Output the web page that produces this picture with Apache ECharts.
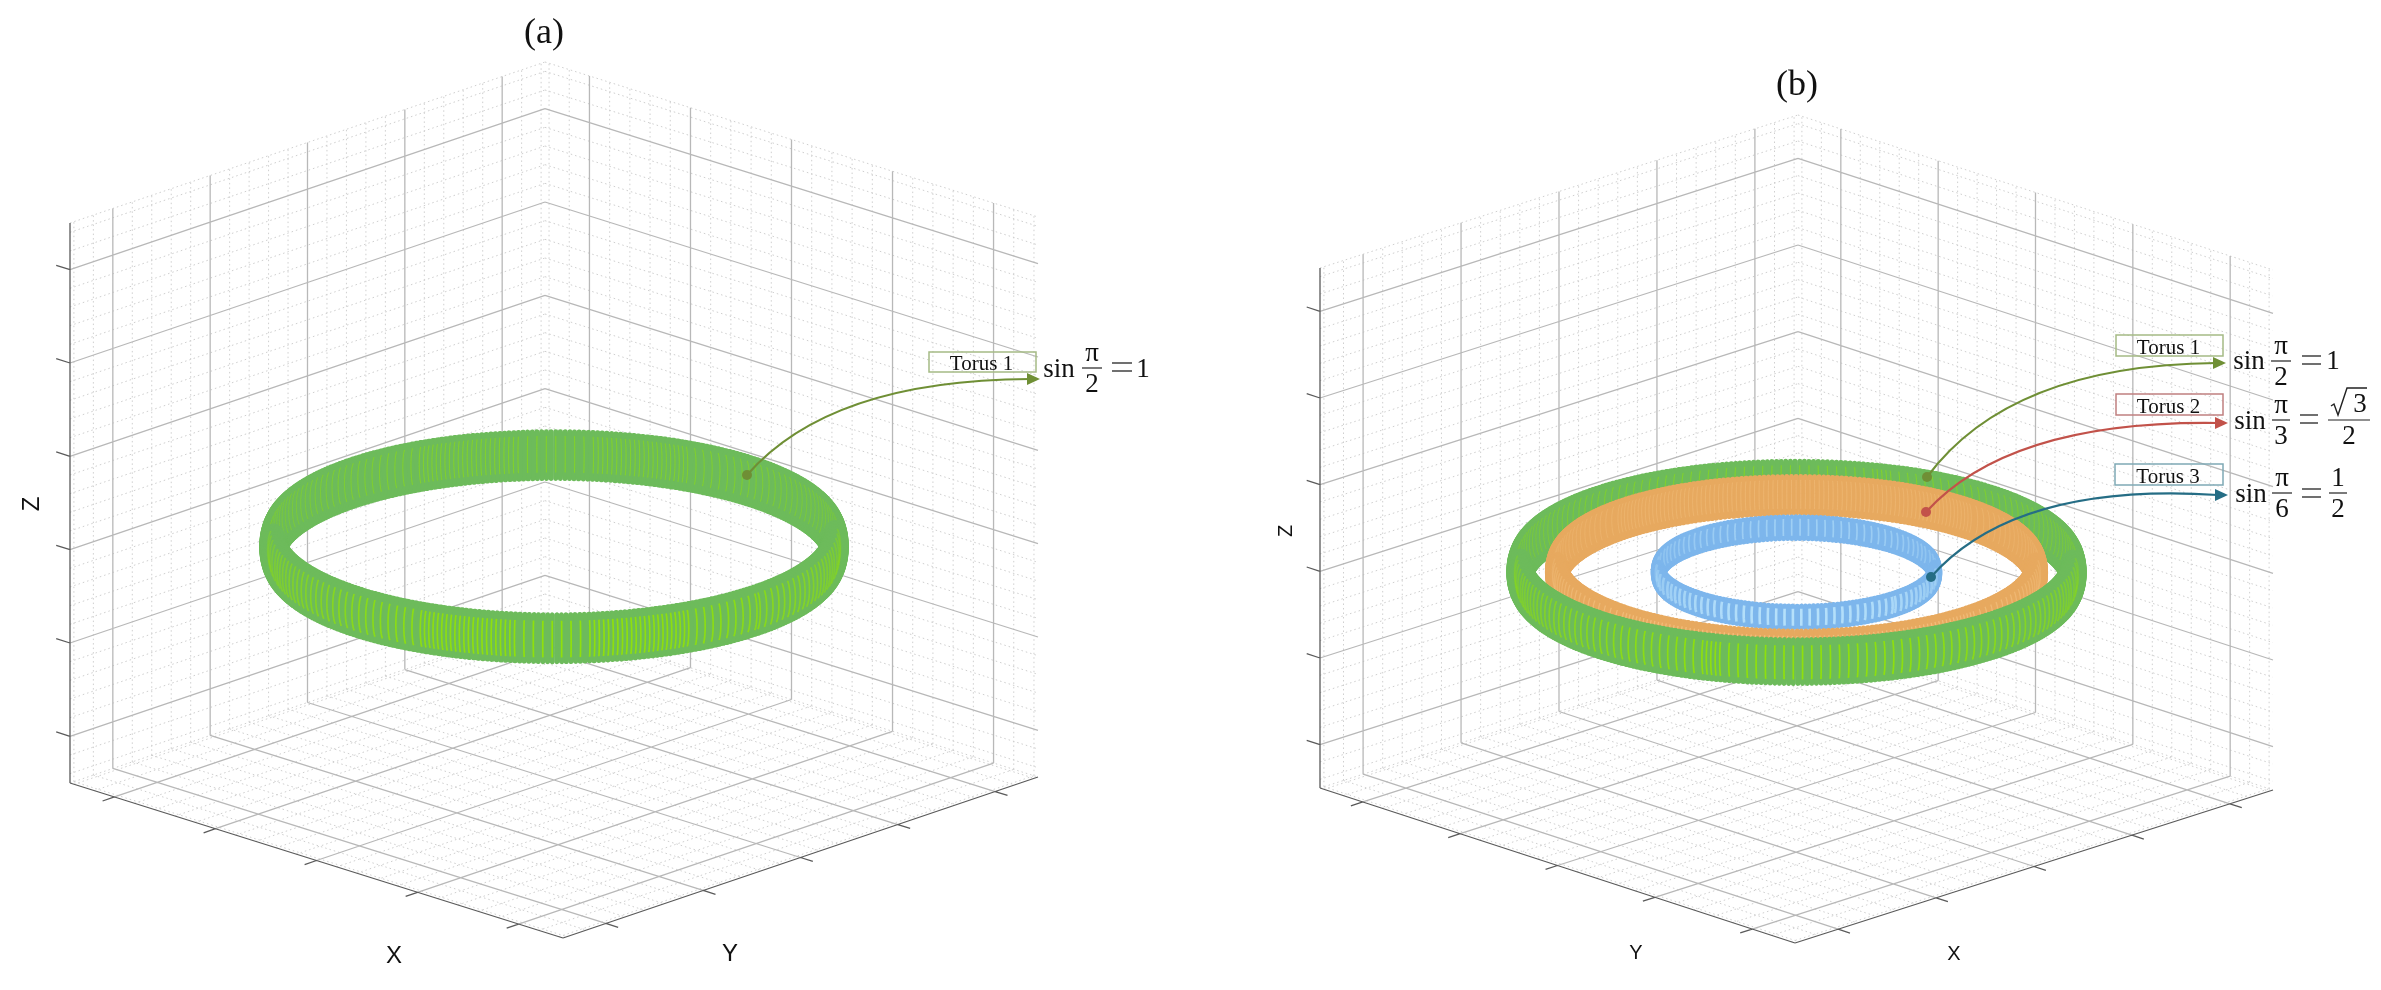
<!DOCTYPE html>
<html>
<head>
<meta charset="utf-8">
<title>Torus</title>
<script src="https://cdn.jsdelivr.net/npm/echarts@6/dist/echarts.min.js"></script>
<style>
html,body{margin:0;padding:0;background:#fff;}
#main{width:2381px;height:990px;}
</style>
</head>
<body>
<div id="main"></div>
<script>
// axis ticks
var xyTicks = [-1, -0.5, 0, 0.5, 1];
var zTicks = [-1, -0.6, -0.2, 0.2, 0.6, 1];
var xyMinor = [-1.2, -1.1, -0.9, -0.8, -0.7, -0.6, -0.4, -0.3, -0.2, -0.1, 0.1, 0.2, 0.3, 0.4, 0.6, 0.7, 0.8, 0.9, 1.1, 1.2];
var zMinor = [-1.2, -1.16, -1.08, -0.92, -0.84, -0.76, -0.68, -0.52, -0.44, -0.36, -0.28, -0.12, -0.04, 0.04, 0.12, 0.28, 0.36, 0.44, 0.52, 0.68, 0.76, 0.84, 0.92, 1.08, 1.16, 1.2];

// tori
var torusNames = ['Torus 1', 'Torus 2', 'Torus 3'];
var torusRadius = [1, 0.866, 0.5];
var tubeRadius = [0.042, 0.036, 0.019];
var tubeHeight = [0.1, 0.085, 0.05];
var torusZ = -0.2;
var ringCounts = [380, 330, 210];
var panelTori = [[0], [0, 1, 2]];

var XY_LIM = 1.22, Z_LIM = 1.2;

// corners of the box on the page (floor left, front, back, box height)
var panels = [
	{ L: [70, 783], F: [563, 938], B: [545, 622], H: 560 },
	{ L: [1320, 788], F: [1795, 943], B: [1798, 635], H: 520 }
];

var bodyColor = ['#6dbb5b', '#e7a95f', '#7db6ec'];
var stripeColor = ['#8fe00c', '#f3c07e', '#b5e0fa'];
var stripeWidth = [1.7, 1.3, 2.6];
var stripeGap = [4.8, 4.2, 5.4];

function project(p, x, y, z) {
	var xf = (x + XY_LIM) / (2 * XY_LIM);
	var yf = (y + XY_LIM) / (2 * XY_LIM);
	var zf = (z + Z_LIM) / (2 * Z_LIM);
	return [
		p.L[0] + xf * (p.F[0] - p.L[0]) + yf * (p.B[0] - p.L[0]),
		p.L[1] + xf * (p.F[1] - p.L[1]) + yf * (p.B[1] - p.L[1]) - zf * p.H
	];
}

function addSeg(list, a, b) {
	list.push(a, b, ['-', '-']);
}

// grid lines of the three walls for a set of ticks
function wallLines(p, xy, z) {
	var out = [];
	var i, v;
	for (i = 0; i < xy.length; i++) {
		v = xy[i];
		// floor
		addSeg(out, project(p, v, -XY_LIM, -Z_LIM), project(p, v, XY_LIM, -Z_LIM));
		addSeg(out, project(p, -XY_LIM, v, -Z_LIM), project(p, XY_LIM, v, -Z_LIM));
		// left wall and right wall
		addSeg(out, project(p, -XY_LIM, v, -Z_LIM), project(p, -XY_LIM, v, Z_LIM));
		addSeg(out, project(p, v, XY_LIM, -Z_LIM), project(p, v, XY_LIM, Z_LIM));
	}
	for (i = 0; i < z.length; i++) {
		v = z[i];
		addSeg(out, project(p, -XY_LIM, -XY_LIM, v), project(p, -XY_LIM, XY_LIM, v));
		addSeg(out, project(p, -XY_LIM, XY_LIM, v), project(p, XY_LIM, XY_LIM, v));
	}
	return out;
}

function axisLines(p) {
	var out = [];
	addSeg(out, project(p, -XY_LIM, -XY_LIM, Z_LIM), project(p, -XY_LIM, -XY_LIM, -Z_LIM));
	addSeg(out, project(p, -XY_LIM, -XY_LIM, -Z_LIM), project(p, XY_LIM, -XY_LIM, -Z_LIM));
	addSeg(out, project(p, XY_LIM, -XY_LIM, -Z_LIM), project(p, XY_LIM, XY_LIM, -Z_LIM));
	var i, a;
	var ux = p.F[0] - p.L[0], uy = p.F[1] - p.L[1];
	var vx = p.B[0] - p.L[0], vy = p.B[1] - p.L[1];
	for (i = 0; i < xyTicks.length; i++) {
		a = project(p, xyTicks[i], -XY_LIM, -Z_LIM);
		addSeg(out, a, [a[0] - vx * 0.025, a[1] - vy * 0.025]);
		a = project(p, XY_LIM, xyTicks[i], -Z_LIM);
		addSeg(out, a, [a[0] + ux * 0.025, a[1] + uy * 0.025]);
	}
	for (i = 0; i < zTicks.length; i++) {
		a = project(p, -XY_LIM, -XY_LIM, zTicks[i]);
		addSeg(out, a, [a[0] - ux * 0.028, a[1] - uy * 0.028]);
	}
	return out;
}

function lineSeries(data, color, width, type, z) {
	return {
		type: 'line', data: data, showSymbol: false, silent: true, z: z, clip: false,
		connectNulls: false, animation: false,
		lineStyle: { color: color, width: width, type: type }
	};
}

// rows of [panel, torus, angle, kind]; kind 0 is the tube ring, kind 1 its stripe.
// far half of each torus first (big to small), then near halves (small to big)
function ringData(panelIdx) {
	var rows = [];
	var p = panels[panelIdx];
	var tori = panelTori[panelIdx];
	var order = tori.map(function (t) { return [t, -1]; })
		.concat(tori.slice().reverse().map(function (t) { return [t, 1]; }));
	order.forEach(function (o) {
		var t = o[0], side = o[1];
		var group = [];
		for (var i = 0; i < ringCounts[t]; i++) {
			var th = i / ringCounts[t] * Math.PI * 2;
			var d = Math.cos(th) - Math.sin(th);
			if ((d < 0 ? -1 : 1) === side) group.push([th, d]);
		}
		group.sort(function (a, b) { return a[1] - b[1]; });
		group.forEach(function (g) { rows.push([panelIdx, t, g[0], 0]); });
		// stripes keep an even gap on the page, so they thin out at the sides
		group.sort(function (a, b) { return a[0] - b[0]; });
		var last = null;
		group.forEach(function (g) {
			var c = project(p, torusRadius[t] * Math.cos(g[0]), torusRadius[t] * Math.sin(g[0]), torusZ);
			if (!last || Math.abs(c[0] - last[0]) + Math.abs(c[1] - last[1]) >= stripeGap[t]) {
				rows.push([panelIdx, t, g[0], 1]);
				last = c;
			}
		});
	});
	return rows;
}

function renderRing(params, api) {
	var p = panels[api.value(0)];
	var t = api.value(1);
	var th = api.value(2);
	var c = Math.cos(th), s = Math.sin(th);
	var R = torusRadius[t], a = tubeRadius[t], b = tubeHeight[t];
	var pts = [], k, f, q;
	if (api.value(3) === 0) {
		for (k = 0; k < 20; k++) {
			f = k / 20 * Math.PI * 2;
			q = project(p, (R + a * Math.cos(f)) * c, (R + a * Math.cos(f)) * s, torusZ + b * Math.sin(f));
			pts.push(api.coord(q));
		}
		return { type: 'polygon', shape: { points: pts }, style: { fill: bodyColor[t], stroke: bodyColor[t], lineWidth: 5, lineJoin: 'round' } };
	}
	// stripe sits inside the tube so the rim stays plain
	for (k = -5; k <= 5; k++) {
		f = k / 5 * 1.1;
		q = project(p, (R + 0.5 * a * Math.cos(f)) * c, (R + 0.5 * a * Math.cos(f)) * s, torusZ + 0.88 * b * Math.sin(f));
		pts.push(api.coord(q));
	}
	// near the sides and on the far half the stripes are fainter
	var d = c - s;
	var far = d < 0;
	var amount = Math.abs(d) / Math.SQRT2;
	return {
		type: 'polyline', shape: { points: pts },
		style: {
			fill: null, stroke: stripeColor[t], lineJoin: 'round',
			lineWidth: stripeWidth[t] * (far ? 0.65 : 1),
			opacity: far ? 0.2 + 0.4 * amount : 0.3 + 0.7 * amount
		}
	};
}

// callouts: start dot, control point, arrow tip, colour
var arrowStart = [[747, 475], [1927, 477], [1926, 512], [1931, 577]];
var arrowCtrl = [[830, 380], [2010, 365], [2010, 420], [2015, 482]];
var arrowTip = [[1040, 379], [2226, 363], [2228, 423], [2228, 495]];
var arrowColor = ['#6f8f35', '#6f8f35', '#c2524a', '#256d85'];

function renderArrow(params, api) {
	var i = api.value(0);
	var a = api.coord(arrowStart[i]), c = api.coord(arrowCtrl[i]), b = api.coord(arrowTip[i]);
	var col = arrowColor[i];
	// the stem stops inside the head
	return {
		type: 'group',
		children: [
			{ type: 'bezierCurve', shape: { x1: a[0], y1: a[1], x2: b[0] - 10, y2: b[1], cpx1: c[0], cpy1: c[1] }, style: { fill: null, stroke: col, lineWidth: 2.2 } },
			{ type: 'polygon', shape: { points: [[b[0], b[1]], [b[0] - 13, b[1] - 6], [b[0] - 13, b[1] + 6]] }, style: { fill: col } },
			{ type: 'circle', shape: { cx: a[0], cy: a[1], r: 5 }, style: { fill: col } }
		]
	};
}

var series = [];
panels.forEach(function (p, n) {
	series.push(lineSeries(wallLines(p, xyMinor, zMinor), '#cfcfcf', 1, [1.5, 3], 1));
	series.push(lineSeries(wallLines(p, xyTicks, zTicks), '#b8b8b8', 1.3, 'solid', 2));
	series.push(lineSeries(axisLines(p), '#5a5a5a', 1.3, 'solid', 3));
	series.push({
		type: 'custom', data: ringData(n), renderItem: renderRing, silent: true, z: 4, clip: false, animation: false,
		encode: { x: 0, y: 1 }, progressive: 0
	});
});
series.push({
	type: 'custom', data: [[0, 0], [1, 0], [2, 0], [3, 0]], renderItem: renderArrow, silent: true, z: 5, clip: false, animation: false,
	encode: { x: 0, y: 1 }
});

// ------- text -------
var SERIF = '"Liberation Serif", serif';
var SANS = '"Liberation Sans", sans-serif';
var els = [];

function txt(x, base, str, size, font, rot) {
	els.push({
		type: 'text', x: x, y: base, rotation: rot || 0, silent: true, z: 10,
		style: { text: str, fill: '#111', font: size + 'px ' + font, textAlign: 'center', textVerticalAlign: 'bottom', verticalAlign: 'bottom' }
	});
}
function stroke(points, color, width) {
	els.push({
		type: 'polyline', silent: true, z: 10, shape: { points: points },
		style: { stroke: color, lineWidth: width, fill: null }
	});
}
function box(x, y, w, h, color, name) {
	els.push({ type: 'rect', silent: true, z: 9, shape: { x: x, y: y, width: w, height: h }, style: { fill: 'rgba(255,255,255,0)', stroke: color, lineWidth: 1.5 } });
	txt(x + w / 2 - 1, y + h + 3, name, 21, SERIF);
}
function frac(cx, top, bar, bottom, halfW) {
	txt(cx, bar - 1, top, 27, SERIF);
	stroke([[cx - halfW, bar], [cx + halfW, bar]], '#222', 1.2);
	txt(cx, bar + 30, bottom, 27, SERIF);
}
function equals(x1, x2, y) {
	stroke([[x1, y - 4], [x2, y - 4]], '#222', 1.3);
	stroke([[x1, y + 4], [x2, y + 4]], '#222', 1.3);
}

txt(544, 52, '(a)', 36, SERIF);
txt(1797, 104, '(b)', 36, SERIF);

txt(394, 968, 'X', 24, SANS);
txt(730, 966, 'Y', 24, SANS);
txt(1636, 963, 'Y', 20, SANS);
txt(1954, 964, 'X', 20, SANS);
txt(44, 504, 'Z', 24, SANS, Math.PI / 2);
txt(1296, 531, 'Z', 20, SANS, Math.PI / 2);

box(929, 352, 107, 20, '#a5bb85', torusNames[0]);
txt(1059, 383, 'sin', 27, SERIF);
frac(1092, 'π', 368, '2', 10);
equals(1112, 1132, 367);
txt(1143, 383, '1', 27, SERIF);

box(2116, 335, 107, 21, '#a5bb85', torusNames[0]);
txt(2249, 375, 'sin', 27, SERIF);
frac(2281, 'π', 361, '2', 10);
equals(2302, 2321, 360);
txt(2333, 375, '1', 27, SERIF);

box(2116, 394, 107, 21, '#c08080', torusNames[1]);
txt(2250, 435, 'sin', 27, SERIF);
frac(2281, 'π', 420, '3', 9);
equals(2300, 2318, 419);
stroke([[2331, 406], [2334, 404], [2338, 415], [2347, 388], [2367, 388]], '#222', 1.4);
txt(2360, 418, '3', 27, SERIF);
stroke([[2328, 420], [2370, 420]], '#222', 1.2);
txt(2349, 450, '2', 27, SERIF);

box(2115, 464, 108, 21, '#7fa9b5', torusNames[2]);
txt(2251, 508, 'sin', 27, SERIF);
frac(2282, 'π', 493, '6', 10);
equals(2302, 2321, 493);
frac(2338, '1', 493, '2', 9);

var myChart = echarts.init(document.getElementById('main'), null, { renderer: 'canvas' });
myChart.setOption({
	animation: false,
	backgroundColor: '#fff',
	grid: { left: 0, right: 0, top: 0, bottom: 0 },
	xAxis: { type: 'value', min: 0, max: 2381, show: false },
	yAxis: { type: 'value', min: 0, max: 990, inverse: true, show: false },
	graphic: { elements: els },
	series: series
});
</script>
</body>
</html>
